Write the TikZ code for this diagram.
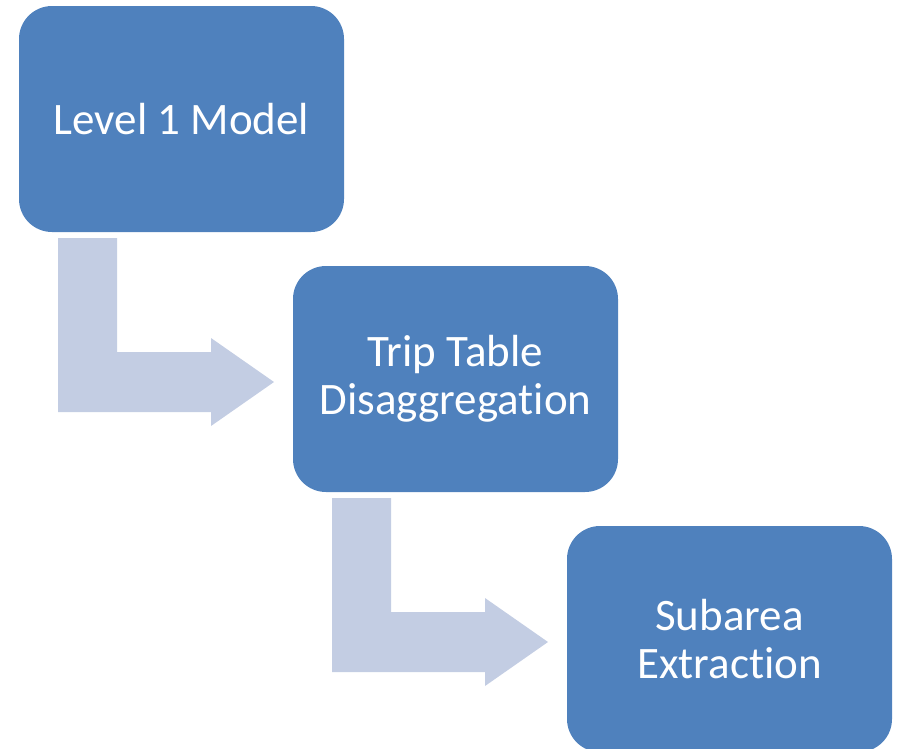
\documentclass[tikz,border=0pt]{standalone}
\usepackage{fontspec}
\setmainfont[Ligatures=NoCommon]{Carlito}
\definecolor{boxblue}{HTML}{4F81BD}
\definecolor{arrowblue}{HTML}{C3CDE3}
\begin{document}
\begin{tikzpicture}[x=1pt,y=-1pt,
  stepbox/.style={draw=none,fill=boxblue,rounded corners=33pt,minimum width=325pt,minimum height=226pt,
    text=white,align=center,font=\fontsize{45}{48}\selectfont,inner sep=0pt},
  bentarrow/.style={fill=arrowblue,draw=none}]
\useasboundingbox (0,0) rectangle (899,748);
\node[stepbox] (b1) at (181.5,119) {Level 1 Model};
\node[stepbox] (b2) at (455.5,379) {Trip Table\\Disaggregation};
\node[stepbox] (b3) at (729.5,639) {Subarea\\Extraction};
\fill[bentarrow] (58,238) -- (117,238) -- (117,352) -- (211,352) -- (211,338) -- (274,382) -- (211,426) -- (211,412) -- (58,412) -- cycle;
\fill[bentarrow] (332,498) -- (391,498) -- (391,612) -- (485,612) -- (485,598) -- (548,642) -- (485,686) -- (485,672) -- (332,672) -- cycle;
\end{tikzpicture}
\end{document}
